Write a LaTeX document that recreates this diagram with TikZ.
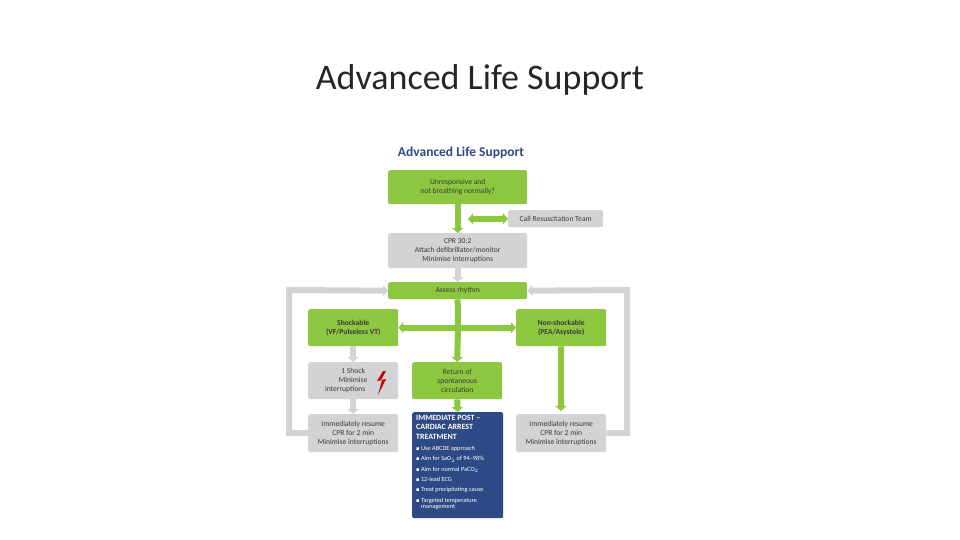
\documentclass[tikz,border=0pt]{standalone}
\usepackage{amssymb}
\usepackage{fontspec}
\setmainfont{Carlito}
\usetikzlibrary{arrows.meta}
\definecolor{algreen}{HTML}{8DC63F}
\definecolor{algrey}{HTML}{D1D3D4}
\definecolor{alnavy}{HTML}{2E4A86}
\definecolor{altext}{HTML}{3A3A3A}
\begin{document}
\begin{tikzpicture}[x=1pt,y=-1pt]
    \tikzstyle{box}=[rounded corners=2pt,anchor=north west,align=center,text=altext,font=\fontsize{7.6}{8.8}\selectfont,inner sep=0pt]
    \tikzstyle{gbox}=[box,fill=algreen]
    \tikzstyle{sbox}=[box,fill=algrey]
    \tikzstyle{flow}=[line width=6pt,-{Triangle[width=11pt,length=5pt]}]
    \tikzstyle{both}=[line width=6pt,{Triangle[width=11pt,length=5pt]}-{Triangle[width=11pt,length=5pt]}]
    \useasboundingbox (0,0) rectangle (960,540);

    \node[font=\fontsize{36}{40}\selectfont,text=black!85] (title) at (480,80) {Advanced Life Support};
    \node[font=\fontsize{13.5}{15}\selectfont\bfseries,text=alnavy] (head) at (461,153) {Advanced Life Support};

    % boxes
    \node[gbox,minimum width=139,minimum height=34] (unresp) at (388,170) {Unresponsive and\\not breathing normally?};
    \node[sbox,minimum width=95,minimum height=17] (team) at (508,210) {Call Resuscitation Team};
    \node[sbox,minimum width=139,minimum height=35] (cpr) at (388,233) {CPR 30:2\\Attach defibrillator/monitor\\Minimise interruptions};
    \node[gbox,minimum width=139,minimum height=17] (assess) at (388,282) {Assess rhythm};
    \node[gbox,minimum width=90,minimum height=37,font=\fontsize{7.6}{8.8}\selectfont\bfseries] (shock) at (308,309) {Shockable\\(VF/Pulseless VT)};
    \node[gbox,minimum width=90,minimum height=37,font=\fontsize{7.6}{8.8}\selectfont\bfseries] (nonshock) at (516,309) {Non-shockable\\(PEA/Asystole)};
    \node[sbox,minimum width=90,minimum height=37] (oneshock) at (308,362) {1 Shock\\Minimise\\interruptions\hspace*{16pt}};
    \node[gbox,minimum width=90,minimum height=37] (rosc) at (412,362) {Return of\\spontaneous\\circulation};
    \node[sbox,minimum width=90,minimum height=38] (resumel) at (308,414) {Immediately resume\\CPR for 2 min\\Minimise interruptions};
    \node[sbox,minimum width=90,minimum height=38] (resumer) at (516,414) {Immediately resume\\CPR for 2 min\\Minimise interruptions};
    \node[box,fill=alnavy,text=white,minimum width=91,minimum height=106,align=left,anchor=north west] (post) at (412,412) {};
    \node[anchor=north west,text=white,align=left,font=\fontsize{8}{9.3}\selectfont\bfseries,inner sep=0pt] (posthead) at (416,415) {IMMEDIATE POST --\\CARDIAC ARREST\\TREATMENT};
    \node[anchor=north west,text=white,align=left,font=\fontsize{6.3}{10.3}\selectfont,inner sep=0pt] (postlist) at (416,446)
        {$\scriptscriptstyle\blacksquare$ Use ABCDE approach\\
         $\scriptscriptstyle\blacksquare$ Aim for SaO$_2$ of 94--98\%\\
         $\scriptscriptstyle\blacksquare$ Aim for normal PaCO$_2$\\
         $\scriptscriptstyle\blacksquare$ 12-lead ECG\\
         $\scriptscriptstyle\blacksquare$ Treat precipitating cause\\
         $\scriptscriptstyle\blacksquare$ Targeted temperature\\[-3.5pt]
         \hspace*{5pt}management};
    \fill[red!80!black] (383,371) -- (377,381) -- (382,380) -- (378,395) -- (386,379) -- (381,380) -- (386,371) -- cycle;

    % connectors
    \draw[flow,algreen] (unresp.south) -- (cpr.north);
    \draw[both,algreen] (468,219) -- (team.west);
    \draw[flow,algrey] (cpr.south) -- (assess.north);
    \draw[line width=6pt,algreen] (assess.south) -- (458,327);
    \draw[flow,algreen] (458,327) -- (rosc.north);
    \draw[both,algreen] (shock.east) -- (nonshock.west);
    \draw[flow,algrey] (shock.south) -- (oneshock.north);
    \draw[flow,algrey] (oneshock.south) -- (resumel.north);
    \draw[flow,algreen] (rosc.south) -- (post.north);
    \draw[flow,algreen] (nonshock.south) -- (561,411);
    \coordinate (lb) at (289,433);
    \coordinate (lt) at (289,290);
    \coordinate (rb) at (627,433);
    \coordinate (rt) at (627,290);
    \draw[flow,algrey,line join=miter] (resumel.west) -- (lb) -- (lt) -- (assess.west);
    \draw[flow,algrey,line join=miter] (resumer.east) -- (rb) -- (rt) -- (assess.east);
\end{tikzpicture}
\end{document}
